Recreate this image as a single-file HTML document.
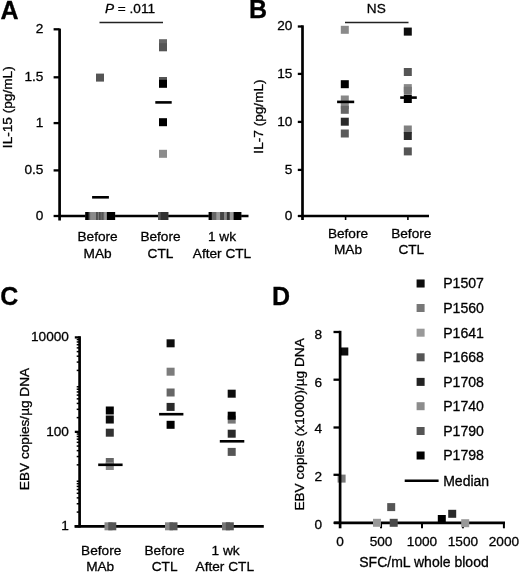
<!DOCTYPE html>
<html><head><meta charset="utf-8"><title>Figure</title>
<style>
html,body{margin:0;padding:0;background:#fff;}
body{width:520px;height:573px;overflow:hidden;}
svg{display:block;font-family:"Liberation Sans",sans-serif;fill:#000;}
text{stroke:#000;stroke-width:0.3px;}
</style></head><body>
<svg width="520" height="573" viewBox="0 0 520 573">
<defs><filter id="soft" x="0" y="0" width="520" height="573" filterUnits="userSpaceOnUse"><feGaussianBlur stdDeviation="0.45"/></filter></defs>
<rect x="0" y="0" width="520" height="573" fill="#fff"/>
<g filter="url(#soft)">
<text x="0.6" y="19.0" font-size="25" font-weight="bold">A</text>
<text x="249.0" y="18.1" font-size="25" font-weight="bold">B</text>
<text x="0.3" y="304.6" font-size="25" font-weight="bold">C</text>
<text x="272.0" y="304.5" font-size="25" font-weight="bold">D</text>
<line x1="59.6" y1="28.6" x2="59.6" y2="220.5" stroke="#000" stroke-width="2.7"/>
<line x1="58.4" y1="216.0" x2="248.5" y2="216.0" stroke="#000" stroke-width="2.7"/>
<line x1="53.6" y1="216.0" x2="59.6" y2="216.0" stroke="#000" stroke-width="2.3"/>
<text x="43.4" y="219.75" text-anchor="end" font-size="13.65" >0</text>
<line x1="53.6" y1="170.4" x2="59.6" y2="170.4" stroke="#000" stroke-width="2.3"/>
<text x="43.4" y="174.15" text-anchor="end" font-size="13.65" >0.5</text>
<line x1="53.6" y1="123.1" x2="59.6" y2="123.1" stroke="#000" stroke-width="2.3"/>
<text x="43.4" y="126.85" text-anchor="end" font-size="13.65" >1</text>
<line x1="53.6" y1="77.3" x2="59.6" y2="77.3" stroke="#000" stroke-width="2.3"/>
<text x="43.4" y="81.05" text-anchor="end" font-size="13.65" >1.5</text>
<line x1="53.6" y1="29.3" x2="59.6" y2="29.3" stroke="#000" stroke-width="2.3"/>
<text x="43.4" y="33.05" text-anchor="end" font-size="13.65" >2</text>
<text transform="translate(12.3,107.2) rotate(-90)" text-anchor="middle" font-size="13.65">IL-15 (pg/mL)</text>
<rect x="85.3" y="212.0" width="29.80" height="8" fill="#666"/>
<rect x="85.3" y="212.0" width="3.50" height="8" fill="#000"/>
<rect x="88.8" y="212.0" width="1.40" height="8" fill="#555"/>
<rect x="90.2" y="212.0" width="6.10" height="8" fill="#8a8a8a"/>
<rect x="96.3" y="212.0" width="1.50" height="8" fill="#444"/>
<rect x="97.8" y="212.0" width="1.40" height="8" fill="#777"/>
<rect x="99.2" y="212.0" width="1.50" height="8" fill="#444"/>
<rect x="100.7" y="212.0" width="0.90" height="8" fill="#777"/>
<rect x="101.6" y="212.0" width="1.90" height="8" fill="#555"/>
<rect x="103.5" y="212.0" width="0.70" height="8" fill="#777"/>
<rect x="104.2" y="212.0" width="2.70" height="8" fill="#999"/>
<rect x="106.9" y="212.0" width="8.20" height="8" fill="#000"/>
<rect x="96.00" y="73.60" width="8" height="8" fill="#555"/>
<line x1="92.1" y1="197.3" x2="108.9" y2="197.3" stroke="#000" stroke-width="2.6"/>
<rect x="159.00" y="39.20" width="8" height="8" fill="#666"/>
<rect x="159.00" y="43.30" width="8" height="8" fill="#555"/>
<rect x="159.00" y="77.00" width="8" height="8" fill="#555"/>
<rect x="159.00" y="79.80" width="8" height="8" fill="#000"/>
<rect x="159.00" y="118.20" width="8" height="8" fill="#000"/>
<rect x="159.00" y="149.80" width="8" height="8" fill="#8c8c8c"/>
<rect x="158.1" y="212.0" width="10.20" height="8" fill="#666"/>
<rect x="158.1" y="212.0" width="2.50" height="8" fill="#5a5a5a"/>
<rect x="160.6" y="212.0" width="7.70" height="8" fill="#333"/>
<line x1="155.3" y1="102.4" x2="171.7" y2="102.4" stroke="#000" stroke-width="2.6"/>
<rect x="208.7" y="212.0" width="32.60" height="8" fill="#666"/>
<rect x="208.7" y="212.0" width="3.20" height="8" fill="#000"/>
<rect x="211.9" y="212.0" width="4.40" height="8" fill="#666"/>
<rect x="216.3" y="212.0" width="3.90" height="8" fill="#999"/>
<rect x="220.2" y="212.0" width="3.80" height="8" fill="#444"/>
<rect x="224" y="212.0" width="2.90" height="8" fill="#888"/>
<rect x="226.9" y="212.0" width="2.90" height="8" fill="#333"/>
<rect x="229.8" y="212.0" width="3.90" height="8" fill="#999"/>
<rect x="233.7" y="212.0" width="7.60" height="8" fill="#000"/>
<line x1="99.5" y1="22.5" x2="163" y2="22.5" stroke="#222" stroke-width="1.4"/>
<text x="130" y="12.9" text-anchor="middle" font-size="13.65"><tspan font-style="italic">P</tspan> = .011</text>
<text x="97.6" y="241.4" text-anchor="middle" font-size="13.65" >Before</text>
<text x="97.6" y="257.6" text-anchor="middle" font-size="13.65" >MAb</text>
<text x="160.5" y="241.4" text-anchor="middle" font-size="13.65" >Before</text>
<text x="160.5" y="257.6" text-anchor="middle" font-size="13.65" >CTL</text>
<text x="222" y="241.4" text-anchor="middle" font-size="13.65" >1 wk</text>
<text x="222" y="257.6" text-anchor="middle" font-size="13.65" >After CTL</text>
<line x1="302.5" y1="25.3" x2="302.5" y2="220.0" stroke="#000" stroke-width="2.7"/>
<line x1="301.3" y1="216.0" x2="429" y2="216.0" stroke="#000" stroke-width="2.7"/>
<line x1="297.8" y1="216.0" x2="302.5" y2="216.0" stroke="#000" stroke-width="2.3"/>
<text x="292.4" y="219.75" text-anchor="end" font-size="13.65" >0</text>
<line x1="297.8" y1="169.9" x2="302.5" y2="169.9" stroke="#000" stroke-width="2.3"/>
<text x="292.4" y="173.65" text-anchor="end" font-size="13.65" >5</text>
<line x1="297.8" y1="121.9" x2="302.5" y2="121.9" stroke="#000" stroke-width="2.3"/>
<text x="292.4" y="125.65" text-anchor="end" font-size="13.65" >10</text>
<line x1="297.8" y1="73.9" x2="302.5" y2="73.9" stroke="#000" stroke-width="2.3"/>
<text x="292.4" y="77.65" text-anchor="end" font-size="13.65" >15</text>
<line x1="297.8" y1="26.5" x2="302.5" y2="26.5" stroke="#000" stroke-width="2.3"/>
<text x="292.4" y="30.25" text-anchor="end" font-size="13.65" >20</text>
<line x1="345.6" y1="216.0" x2="345.6" y2="220.0" stroke="#000" stroke-width="1.6"/>
<line x1="407.9" y1="216.0" x2="407.9" y2="220.0" stroke="#000" stroke-width="1.6"/>
<text transform="translate(263.2,116.5) rotate(-90)" text-anchor="middle" font-size="13.65">IL-7 (pg/mL)</text>
<rect x="340.80" y="25.80" width="8" height="8" fill="#8a8a8a"/>
<rect x="340.80" y="80.20" width="8" height="8" fill="#000"/>
<rect x="340.80" y="95.50" width="8" height="8" fill="#888"/>
<rect x="340.80" y="101.00" width="8" height="8" fill="#888"/>
<rect x="340.80" y="105.80" width="8" height="8" fill="#666"/>
<rect x="340.80" y="117.70" width="8" height="8" fill="#2a2a2a"/>
<rect x="340.80" y="129.50" width="8" height="8" fill="#5a5a5a"/>
<line x1="337.1" y1="101.9" x2="354.2" y2="101.9" stroke="#000" stroke-width="2.6"/>
<rect x="403.80" y="27.60" width="8" height="8" fill="#0a0a0a"/>
<rect x="403.80" y="68.00" width="8" height="8" fill="#555"/>
<rect x="403.80" y="84.10" width="8" height="8" fill="#8a8a8a"/>
<rect x="403.80" y="86.80" width="8" height="8" fill="#777"/>
<rect x="403.80" y="95.00" width="8" height="8" fill="#000"/>
<rect x="403.80" y="125.50" width="8" height="8" fill="#808080"/>
<rect x="403.80" y="132.00" width="8" height="8" fill="#2a2a2a"/>
<rect x="403.80" y="147.40" width="8" height="8" fill="#555"/>
<line x1="400.2" y1="97.6" x2="416.8" y2="97.6" stroke="#000" stroke-width="2.6"/>
<line x1="345" y1="22.5" x2="408.5" y2="22.5" stroke="#222" stroke-width="1.4"/>
<text x="376.3" y="12.9" text-anchor="middle" font-size="13.65" >NS</text>
<text x="348" y="238.2" text-anchor="middle" font-size="13.65" >Before</text>
<text x="348" y="253.9" text-anchor="middle" font-size="13.65" >MAb</text>
<text x="411.3" y="238.2" text-anchor="middle" font-size="13.65" >Before</text>
<text x="411.3" y="253.9" text-anchor="middle" font-size="13.65" >CTL</text>
<line x1="79.6" y1="336.2" x2="79.6" y2="527.5" stroke="#000" stroke-width="2.7"/>
<line x1="74.6" y1="526.3" x2="263.8" y2="526.3" stroke="#000" stroke-width="2.7"/>
<line x1="76.7" y1="512.0838584547685" x2="79.6" y2="512.0838584547685" stroke="#000" stroke-width="1.5"/>
<line x1="76.7" y1="503.7679487458639" x2="79.6" y2="503.7679487458639" stroke="#000" stroke-width="1.5"/>
<line x1="76.7" y1="497.8677169095369" x2="79.6" y2="497.8677169095369" stroke="#000" stroke-width="1.5"/>
<line x1="76.7" y1="493.2911415452315" x2="79.6" y2="493.2911415452315" stroke="#000" stroke-width="1.5"/>
<line x1="76.7" y1="489.55180720063237" x2="79.6" y2="489.55180720063237" stroke="#000" stroke-width="1.5"/>
<line x1="76.7" y1="486.39024506032666" x2="79.6" y2="486.39024506032666" stroke="#000" stroke-width="1.5"/>
<line x1="76.7" y1="483.6515753643054" x2="79.6" y2="483.6515753643054" stroke="#000" stroke-width="1.5"/>
<line x1="76.7" y1="481.2358974917278" x2="79.6" y2="481.2358974917278" stroke="#000" stroke-width="1.5"/>
<line x1="76.7" y1="464.85885845476844" x2="79.6" y2="464.85885845476844" stroke="#000" stroke-width="1.5"/>
<line x1="76.7" y1="456.5429487458639" x2="79.6" y2="456.5429487458639" stroke="#000" stroke-width="1.5"/>
<line x1="76.7" y1="450.64271690953694" x2="79.6" y2="450.64271690953694" stroke="#000" stroke-width="1.5"/>
<line x1="76.7" y1="446.06614154523146" x2="79.6" y2="446.06614154523146" stroke="#000" stroke-width="1.5"/>
<line x1="76.7" y1="442.3268072006324" x2="79.6" y2="442.3268072006324" stroke="#000" stroke-width="1.5"/>
<line x1="76.7" y1="439.1652450603267" x2="79.6" y2="439.1652450603267" stroke="#000" stroke-width="1.5"/>
<line x1="76.7" y1="436.42657536430545" x2="79.6" y2="436.42657536430545" stroke="#000" stroke-width="1.5"/>
<line x1="76.7" y1="434.01089749172786" x2="79.6" y2="434.01089749172786" stroke="#000" stroke-width="1.5"/>
<line x1="76.7" y1="417.6338584547685" x2="79.6" y2="417.6338584547685" stroke="#000" stroke-width="1.5"/>
<line x1="76.7" y1="409.3179487458639" x2="79.6" y2="409.3179487458639" stroke="#000" stroke-width="1.5"/>
<line x1="76.7" y1="403.4177169095369" x2="79.6" y2="403.4177169095369" stroke="#000" stroke-width="1.5"/>
<line x1="76.7" y1="398.8411415452315" x2="79.6" y2="398.8411415452315" stroke="#000" stroke-width="1.5"/>
<line x1="76.7" y1="395.1018072006324" x2="79.6" y2="395.1018072006324" stroke="#000" stroke-width="1.5"/>
<line x1="76.7" y1="391.9402450603267" x2="79.6" y2="391.9402450603267" stroke="#000" stroke-width="1.5"/>
<line x1="76.7" y1="389.2015753643054" x2="79.6" y2="389.2015753643054" stroke="#000" stroke-width="1.5"/>
<line x1="76.7" y1="386.78589749172784" x2="79.6" y2="386.78589749172784" stroke="#000" stroke-width="1.5"/>
<line x1="76.7" y1="370.40885845476845" x2="79.6" y2="370.40885845476845" stroke="#000" stroke-width="1.5"/>
<line x1="76.7" y1="362.0929487458639" x2="79.6" y2="362.0929487458639" stroke="#000" stroke-width="1.5"/>
<line x1="76.7" y1="356.19271690953695" x2="79.6" y2="356.19271690953695" stroke="#000" stroke-width="1.5"/>
<line x1="76.7" y1="351.61614154523147" x2="79.6" y2="351.61614154523147" stroke="#000" stroke-width="1.5"/>
<line x1="76.7" y1="347.87680720063236" x2="79.6" y2="347.87680720063236" stroke="#000" stroke-width="1.5"/>
<line x1="76.7" y1="344.71524506032665" x2="79.6" y2="344.71524506032665" stroke="#000" stroke-width="1.5"/>
<line x1="76.7" y1="341.9765753643054" x2="79.6" y2="341.9765753643054" stroke="#000" stroke-width="1.5"/>
<line x1="76.7" y1="339.56089749172787" x2="79.6" y2="339.56089749172787" stroke="#000" stroke-width="1.5"/>
<line x1="74.8" y1="526.3" x2="79.6" y2="526.3" stroke="#000" stroke-width="2.3"/>
<text x="68.9" y="530.1999999999999" text-anchor="end" font-size="13.65" >1</text>
<line x1="74.8" y1="431.84999999999997" x2="79.6" y2="431.84999999999997" stroke="#000" stroke-width="2.3"/>
<text x="68.9" y="435.74999999999994" text-anchor="end" font-size="13.65" >100</text>
<line x1="74.8" y1="337.4" x2="79.6" y2="337.4" stroke="#000" stroke-width="2.3"/>
<text x="68.9" y="341.29999999999995" text-anchor="end" font-size="13.65" >10000</text>
<text transform="translate(29,429) rotate(-90)" text-anchor="middle" font-size="13.65">EBV copies/µg DNA</text>
<rect x="105.80" y="406.50" width="8" height="8" fill="#000"/>
<rect x="105.80" y="415.50" width="8" height="8" fill="#0a0a0a"/>
<rect x="105.80" y="428.70" width="8" height="8" fill="#333"/>
<rect x="105.80" y="458.00" width="8" height="8" fill="#666"/>
<rect x="105.80" y="462.00" width="8" height="8" fill="#888"/>
<line x1="98.2" y1="464.8" x2="122.6" y2="464.8" stroke="#000" stroke-width="2.6"/>
<rect x="104.50" y="522.30" width="8" height="8" fill="#888"/>
<rect x="108.30" y="522.30" width="8" height="8" fill="#555"/>
<rect x="166.60" y="339.30" width="8" height="8" fill="#0a0a0a"/>
<rect x="166.60" y="367.70" width="8" height="8" fill="#7c7c7c"/>
<rect x="166.60" y="388.50" width="8" height="8" fill="#666"/>
<rect x="166.60" y="402.90" width="8" height="8" fill="#2a2a2a"/>
<rect x="166.60" y="420.80" width="8" height="8" fill="#000"/>
<line x1="159.1" y1="414.2" x2="183.4" y2="414.2" stroke="#000" stroke-width="2.6"/>
<rect x="165.00" y="522.30" width="8" height="8" fill="#888"/>
<rect x="169.50" y="522.30" width="8" height="8" fill="#555"/>
<rect x="227.70" y="389.70" width="8" height="8" fill="#0a0a0a"/>
<rect x="227.70" y="415.60" width="8" height="8" fill="#777"/>
<rect x="227.70" y="411.70" width="8" height="8" fill="#000"/>
<rect x="227.70" y="429.70" width="8" height="8" fill="#2a2a2a"/>
<rect x="227.70" y="447.90" width="8" height="8" fill="#555"/>
<line x1="219.8" y1="441.3" x2="244.3" y2="441.3" stroke="#000" stroke-width="2.6"/>
<rect x="222.00" y="522.30" width="8" height="8" fill="#777"/>
<rect x="225.80" y="522.30" width="8" height="8" fill="#555"/>
<text x="101.2" y="555" text-anchor="middle" font-size="13.65" >Before</text>
<text x="100.2" y="571.2" text-anchor="middle" font-size="13.65" >MAb</text>
<text x="164.6" y="555" text-anchor="middle" font-size="13.65" >Before</text>
<text x="164.6" y="571.2" text-anchor="middle" font-size="13.65" >CTL</text>
<text x="225.6" y="555" text-anchor="middle" font-size="13.65" >1 wk</text>
<text x="224.8" y="571.2" text-anchor="middle" font-size="13.65" >After CTL</text>
<rect x="337.60" y="474.60" width="8" height="8" fill="#777"/>
<rect x="340.30" y="347.50" width="8" height="8" fill="#0a0a0a"/>
<line x1="340.1" y1="330.8" x2="340.1" y2="528.3" stroke="#000" stroke-width="2.7"/>
<line x1="334.1" y1="522.8" x2="505" y2="522.8" stroke="#000" stroke-width="2.7"/>
<line x1="333.5" y1="522.8" x2="340.1" y2="522.8" stroke="#000" stroke-width="2.3"/>
<text x="322.0" y="529.4" text-anchor="end" font-size="13.65" >0</text>
<line x1="333.5" y1="474.8" x2="340.1" y2="474.8" stroke="#000" stroke-width="2.3"/>
<text x="322.0" y="480.9" text-anchor="end" font-size="13.65" >2</text>
<line x1="333.5" y1="427.5" x2="340.1" y2="427.5" stroke="#000" stroke-width="2.3"/>
<text x="322.0" y="433.2" text-anchor="end" font-size="13.65" >4</text>
<line x1="333.5" y1="379.7" x2="340.1" y2="379.7" stroke="#000" stroke-width="2.3"/>
<text x="322.0" y="386.9" text-anchor="end" font-size="13.65" >6</text>
<line x1="333.5" y1="332.0" x2="340.1" y2="332.0" stroke="#000" stroke-width="2.3"/>
<text x="322.0" y="339.4" text-anchor="end" font-size="13.65" >8</text>
<line x1="381.05" y1="522.8" x2="381.05" y2="528.3" stroke="#000" stroke-width="2.0"/>
<line x1="422.0" y1="522.8" x2="422.0" y2="528.3" stroke="#000" stroke-width="2.0"/>
<line x1="462.95" y1="522.8" x2="462.95" y2="528.3" stroke="#000" stroke-width="2.0"/>
<line x1="503.9" y1="522.8" x2="503.9" y2="528.3" stroke="#000" stroke-width="2.0"/>
<text x="340.1" y="546.4" text-anchor="middle" font-size="13.65" >0</text>
<text x="381.05" y="546.4" text-anchor="middle" font-size="13.65" >500</text>
<text x="422.0" y="546.4" text-anchor="middle" font-size="13.65" >1000</text>
<text x="462.95" y="546.4" text-anchor="middle" font-size="13.65" >1500</text>
<text x="503.9" y="546.4" text-anchor="middle" font-size="13.65" >2000</text>
<text transform="translate(304.4,424.4) rotate(-90)" text-anchor="middle" font-size="13.65">EBV copies (x1000)/µg DNA</text>
<text x="424" y="566.5" text-anchor="middle" font-size="14" >SFC/mL whole blood</text>
<rect x="373.00" y="518.80" width="8" height="8" fill="#999"/>
<rect x="387.20" y="503.10" width="8" height="8" fill="#555"/>
<rect x="389.70" y="518.80" width="8" height="8" fill="#4a4a4a"/>
<rect x="437.80" y="515.00" width="8" height="8" fill="#000"/>
<rect x="448.20" y="509.80" width="8" height="8" fill="#2a2a2a"/>
<rect x="461.20" y="519.20" width="8" height="8" fill="#999"/>
<rect x="416.60" y="279.50" width="8" height="8" fill="#0a0a0a"/>
<text x="443.2" y="288.4" text-anchor="start" font-size="14.1" >P1507</text>
<rect x="416.60" y="304.00" width="8" height="8" fill="#777"/>
<text x="443.2" y="312.9" text-anchor="start" font-size="14.1" >P1560</text>
<rect x="416.60" y="328.70" width="8" height="8" fill="#999"/>
<text x="443.2" y="337.59999999999997" text-anchor="start" font-size="14.1" >P1641</text>
<rect x="416.60" y="353.30" width="8" height="8" fill="#555"/>
<text x="443.2" y="362.2" text-anchor="start" font-size="14.1" >P1668</text>
<rect x="416.60" y="377.90" width="8" height="8" fill="#222"/>
<text x="443.2" y="386.79999999999995" text-anchor="start" font-size="14.1" >P1708</text>
<rect x="416.60" y="402.20" width="8" height="8" fill="#8c8c8c"/>
<text x="443.2" y="411.09999999999997" text-anchor="start" font-size="14.1" >P1740</text>
<rect x="416.60" y="427.00" width="8" height="8" fill="#555"/>
<text x="443.2" y="435.9" text-anchor="start" font-size="14.1" >P1790</text>
<rect x="416.60" y="451.50" width="8" height="8" fill="#000"/>
<text x="443.2" y="460.4" text-anchor="start" font-size="14.1" >P1798</text>
<line x1="404.7" y1="480.7" x2="438.6" y2="480.7" stroke="#000" stroke-width="2.4"/>
<text x="443.2" y="485.5" text-anchor="start" font-size="14" >Median</text>
</g>
</svg>
</body></html>
